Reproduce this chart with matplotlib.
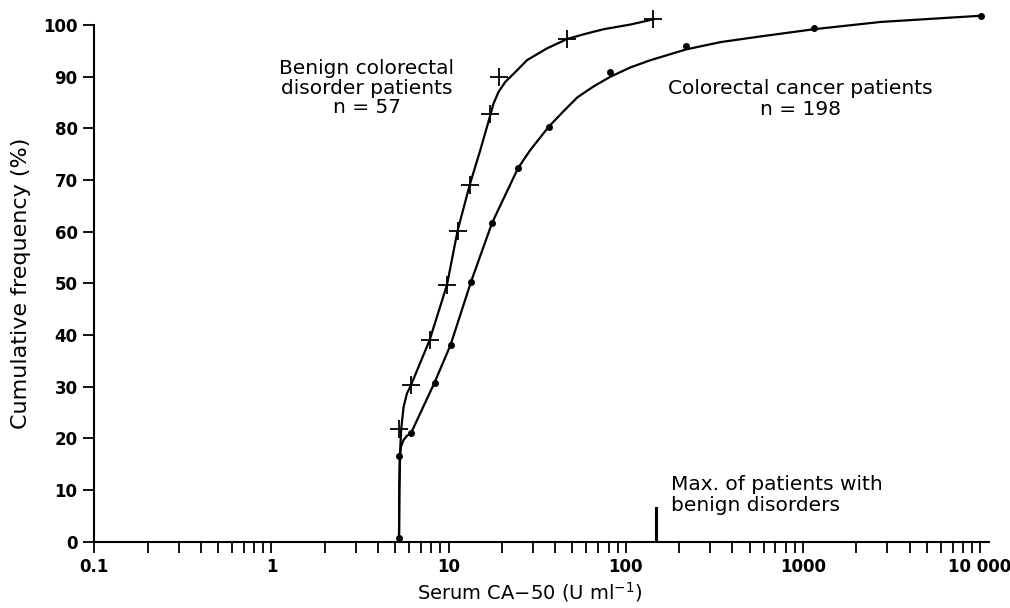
import numpy as np
import matplotlib.pyplot as plt
from matplotlib.ticker import FixedLocator, FixedFormatter, NullFormatter

plt.rcParams['font.family'] = ['DejaVu Sans']

benign_x = [5.22, 6.13, 7.81, 9.79, 11.24, 13.14, 17.2, 19.2, 46.7, 142.8]
benign_y = [21.8, 30.3, 39.0, 49.7, 60.2, 69.0, 82.8, 89.9, 97.3, 101.1]

cancer_x = [5.25, 5.25, 6.13, 8.33, 10.26, 13.38, 17.59, 24.66, 36.7, 81.9, 220, 1159, 10090]
cancer_y = [0.8, 16.5, 21.0, 30.8, 38.1, 50.3, 61.7, 72.3, 80.3, 91.0, 96.0, 99.5, 101.8]

# hand drawn curves
benign_curve_x = [5.25, 5.27, 5.3, 5.4, 5.57, 5.82, 6.13, 7.81, 9.79, 11.24, 13.14, 15.1,
                  16.76, 17.89, 19.09, 20.9, 23.8, 27.7, 36.0, 46.7, 59.2, 75.2, 106.3, 142.8]
benign_curve_y = [0.8, 10.0, 16.0, 21.8, 26.1, 28.7, 30.3, 39.0, 49.7, 60.2, 69.0, 75.8,
                  81.2, 84.7, 87.0, 89.0, 90.9, 93.2, 95.5, 97.3, 98.3, 99.2, 100.1, 101.1]

cancer_curve_x = [5.25, 5.27, 5.32, 5.38, 5.57, 5.82, 6.13, 8.33, 10.26, 13.38, 17.59, 24.66,
                  28.9, 36.7, 44.5, 53.3, 65.7, 81.9, 106.3, 137.9, 220, 343, 577, 1159,
                  2748, 10090]
cancer_curve_y = [0.8, 10.0, 16.5, 18.4, 19.7, 20.5, 21.0, 30.8, 38.1, 50.3, 61.7, 72.3,
                  75.8, 80.3, 83.3, 86.0, 88.1, 90.0, 91.8, 93.2, 95.3, 96.7, 97.8, 99.2,
                  100.6, 101.8]

max_benign = 148  # marker on the x axis
max_benign_h = 6.5

x_major = [0.1, 1, 10, 100, 1000, 10000]
x_labels = ['0.1', '1', '10', '100', '1000', '10 000']
y_ticks = list(range(0, 101, 10))

fig = plt.figure(figsize=(10.1, 6.08), dpi=100)
ax = fig.add_axes([0.0934, 0.109, 0.8858, 0.8498])

ax.plot(benign_curve_x, benign_curve_y, color='black', lw=1.6, clip_on=False)
ax.plot(cancer_curve_x, cancer_curve_y, color='black', lw=1.6, clip_on=False)
ax.plot(benign_x, benign_y, ls='none', marker='+', ms=13, mew=1.3, color='black', clip_on=False)
ax.plot(cancer_x, cancer_y, ls='none', marker='o', ms=4, color='black', clip_on=False)

# max of benign patients tick
ax.plot([max_benign, max_benign], [0, max_benign_h], color='black', lw=2.2)

ax.set_xscale('log')
ax.set_xlim(0.1, 11240)
ax.set_ylim(0, 100)

minor = [m * 10.0 ** e for e in range(-1, 4) for m in range(2, 10)]
ax.xaxis.set_major_locator(FixedLocator(x_major))
ax.xaxis.set_major_formatter(FixedFormatter(x_labels))
ax.xaxis.set_minor_locator(FixedLocator(minor))
ax.xaxis.set_minor_formatter(NullFormatter())
ax.set_yticks(y_ticks)

for s in ['top', 'right']:
    ax.spines[s].set_visible(False)
for s in ['left', 'bottom']:
    ax.spines[s].set_linewidth(1.5)

ax.tick_params(axis='both', which='both', direction='out', length=8, width=1.3,
               labelsize=12, pad=4)
for lab in ax.get_xticklabels() + ax.get_yticklabels():
    lab.set_fontweight('bold')

ax.set_ylabel('Cumulative frequency (%)', fontsize=16)
ax.yaxis.set_label_coords(-0.0707, 0.5)
ax.set_xlabel('Serum CA\u221250 (U ml$^{-1}$)', fontsize=14)
ax.xaxis.set_label_coords(0.487, -0.074)

ax.text(3.46, 87.8, 'Benign colorectal\ndisorder patients\nn = 57', ha='center', va='center',
        multialignment='center', fontsize=14.5, linespacing=1.05)
ax.text(970, 85.7, 'Colorectal cancer patients\nn = 198', ha='center', va='center',
        multialignment='center', fontsize=14.5, linespacing=1.1)
ax.text(181, 9.0, 'Max. of patients with\nbenign disorders', ha='left', va='center',
        fontsize=14.5, linespacing=1.1)

plt.savefig('out.png', dpi=100)
